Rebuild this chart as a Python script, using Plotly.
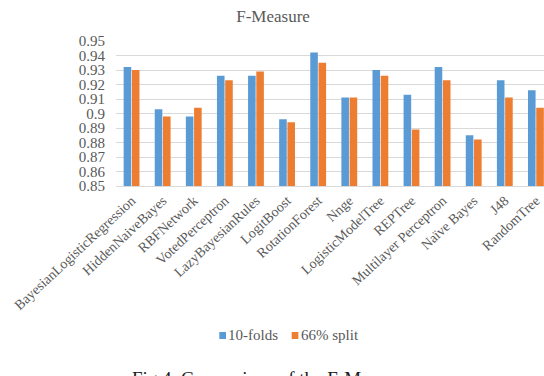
import plotly.graph_objects as go

# Classifiers evaluated
classifiers = [
    "BayesianLogisticRegression", "HiddenNaiveBayes", "RBFNetwork", "VotedPerceptron",
    "LazyBayesianRules", "LogitBoost", "RotationForest", "Nnge", "LogisticModelTree",
    "REPTree", "Multilayer Perceptron", "Naïve Bayes", "J48", "RandomTree",
]

# F-Measure per evaluation scheme
f_10folds = [0.932, 0.903, 0.898, 0.926, 0.926, 0.896, 0.942, 0.911, 0.930,
             0.913, 0.932, 0.885, 0.923, 0.916]
f_split66 = [0.930, 0.898, 0.904, 0.923, 0.929, 0.894, 0.935, 0.911, 0.926,
             0.889, 0.923, 0.882, 0.911, 0.904]

series_names = ["10-folds", "66% split"]
series_colors = ["#5B9BD5", "#ED7D31"]

y_ticks = [0.85, 0.86, 0.87, 0.88, 0.89, 0.9, 0.91, 0.92, 0.93, 0.94, 0.95]
y_tick_text = ["0.85", "0.86", "0.87", "0.88", "0.89", "0.9", "0.91", "0.92",
               "0.93", "0.94", "0.95"]

SERIF = "Liberation Serif, Times New Roman, serif"
GREY = "#595959"

fig = go.Figure()
for name, vals, col in zip(series_names, [f_10folds, f_split66], series_colors):
    fig.add_trace(go.Bar(x=classifiers, y=vals, name=name,
                         marker=dict(color=col, line=dict(width=0))))

fig.update_layout(
    width=544, height=376,
    margin=dict(l=116, r=0, t=41, b=190),
    paper_bgcolor="white", plot_bgcolor="white",
    barmode="group", bargap=0.47, bargroupgap=0.08,
    title=dict(text="F-Measure", x=0.502, xanchor="center", y=0.957, yanchor="middle",
               font=dict(family=SERIF, size=17, color=GREY)),
    showlegend=False,
)

fig.update_xaxes(
    type="category", range=[-0.5, 13.26], automargin=False,
    tickangle=-43, ticks="", showgrid=False,
    showline=True, linecolor="#D9D9D9", linewidth=1,
    tickfont=dict(family=SERIF, size=14, color=GREY),
)
fig.update_yaxes(
    range=[0.85, 0.95], automargin=False,
    tickmode="array", tickvals=y_ticks, ticktext=y_tick_text,
    showgrid=True, gridcolor="#D9D9D9", gridwidth=1, zeroline=False,
    ticks="", ticklabelstandoff=10,
    tickfont=dict(family=SERIF, size=15, color=GREY),
)

# Compact legend below the axis: small colour squares with series names
legend_x = [0.2414, 0.4105]
for x0, name, col in zip(legend_x, series_names, series_colors):
    fig.add_shape(type="rect", xref="paper", yref="paper",
                  x0=x0, x1=x0 + 0.0156, y0=-1.0552, y1=-1.0069,
                  fillcolor=col, line=dict(width=0))
    fig.add_annotation(text=name, xref="paper", yref="paper",
                       x=x0 + 0.0165, y=-1.031, xanchor="left", yanchor="middle",
                       showarrow=False,
                       font=dict(family=SERIF, size=15, color=GREY))

# Figure caption beneath the chart
fig.add_annotation(
    text="Fig.4. Comparison of the F-Measure", xref="paper", yref="paper",
    x=0.033, y=-1.24, xanchor="left", yanchor="top", showarrow=False,
    font=dict(family=SERIF, size=19, color="#1a1a1a"),
)

fig.write_html("out.html")
